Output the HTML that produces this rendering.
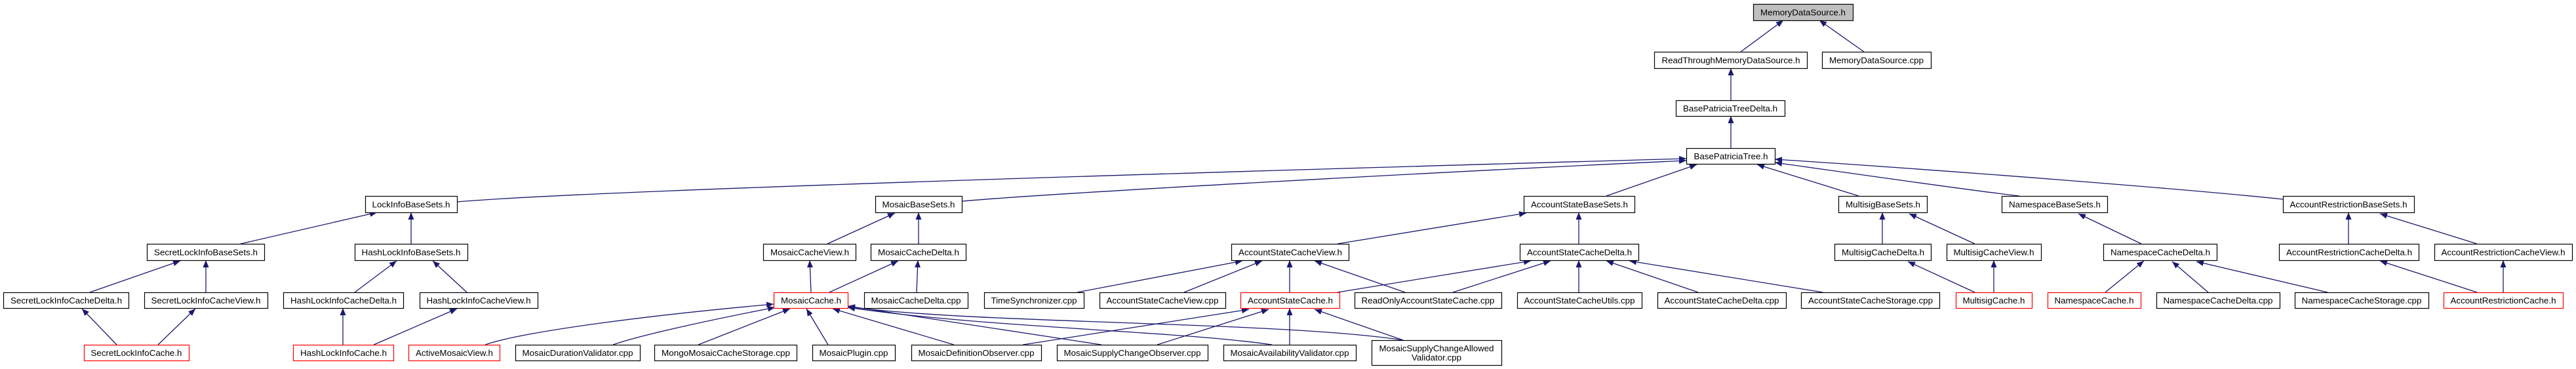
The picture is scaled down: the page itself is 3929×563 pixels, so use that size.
<!DOCTYPE html>
<html><head><meta charset="utf-8"><style>
html,body{margin:0;padding:0;background:#fff;}
svg{display:block;}
text{font-family:"Liberation Sans",Arial,sans-serif;font-size:13px;fill:#000;}
.b{fill:#fff;stroke:#000;stroke-width:1.2;}
.r{fill:#fff;stroke:#ff0000;stroke-width:1.2;}
.e{stroke:#191970;stroke-width:1.3;fill:none;marker-start:url(#a);}
</style></head><body>
<svg width="3929" height="563" viewBox="0 0 3929 563" xmlns="http://www.w3.org/2000/svg">
<defs><marker id="a" markerUnits="userSpaceOnUse" markerWidth="12" markerHeight="10" refX="11" refY="4.5" orient="auto-start-reverse"><path d="M0,0 L11,4.5 L0,9 z" fill="#191970"/></marker></defs>

<g>
<line class="e" x1="2720" y1="31" x2="2655" y2="79"/>
<line class="e" x1="2775" y1="31" x2="2843" y2="79"/>
<line class="e" x1="2640" y1="104" x2="2640" y2="153"/>
<line class="e" x1="2640" y1="177" x2="2640" y2="226"/>
<!-- BPT children -->
<path class="e" d="M2572,242 C2000,258 900,290 697,308"/>
<path class="e" d="M2572,245 C2200,262 1600,295 1467,307"/>
<line class="e" x1="2588" y1="251" x2="2450" y2="299"/>
<line class="e" x1="2680" y1="251" x2="2835" y2="299"/>
<path class="e" d="M2707,248 C2850,268 3000,290 3080,299"/>
<path class="e" d="M2707,243 C3000,262 3350,290 3482,304"/>
<!-- row4->5 -->
<line class="e" x1="575" y1="324" x2="367" y2="372"/>
<line class="e" x1="627" y1="324" x2="627" y2="372"/>
<line class="e" x1="1365" y1="325" x2="1262" y2="372"/>
<line class="e" x1="1401" y1="324" x2="1401" y2="372"/>
<line class="e" x1="2328" y1="325" x2="2040" y2="372"/>
<line class="e" x1="2408" y1="324" x2="2408" y2="372"/>
<line class="e" x1="2871" y1="324" x2="2871" y2="372"/>
<line class="e" x1="2912" y1="326" x2="3012" y2="372"/>
<line class="e" x1="3170" y1="326" x2="3266" y2="372"/>
<line class="e" x1="3582" y1="324" x2="3582" y2="372"/>
<line class="e" x1="3630" y1="326" x2="3778" y2="372"/>
<!-- row5->6 -->
<line class="e" x1="275" y1="398" x2="137" y2="446"/>
<line class="e" x1="314" y1="397" x2="314" y2="446"/>
<line class="e" x1="605" y1="398" x2="541" y2="446"/>
<line class="e" x1="660" y1="398" x2="712" y2="446"/>
<line class="e" x1="1235" y1="397" x2="1237" y2="446"/>
<line class="e" x1="1370" y1="398" x2="1265" y2="446"/>
<line class="e" x1="1400" y1="397" x2="1398" y2="446"/>
<line class="e" x1="1895" y1="398" x2="1643" y2="446"/>
<line class="e" x1="1925" y1="398" x2="1806" y2="446"/>
<line class="e" x1="1967" y1="397" x2="1967" y2="446"/>
<line class="e" x1="2005" y1="398" x2="2143" y2="446"/>
<line class="e" x1="2335" y1="398" x2="2040" y2="446"/>
<line class="e" x1="2365" y1="398" x2="2216" y2="446"/>
<line class="e" x1="2408" y1="397" x2="2408" y2="446"/>
<line class="e" x1="2450" y1="398" x2="2590" y2="446"/>
<line class="e" x1="2485" y1="398" x2="2780" y2="446"/>
<line class="e" x1="2910" y1="399" x2="3012" y2="446"/>
<line class="e" x1="3041" y1="397" x2="3041" y2="446"/>
<line class="e" x1="3270" y1="398" x2="3211" y2="446"/>
<line class="e" x1="3313" y1="399" x2="3368" y2="446"/>
<line class="e" x1="3350" y1="399" x2="3550" y2="446"/>
<line class="e" x1="3630" y1="398" x2="3778" y2="446"/>
<line class="e" x1="3818" y1="397" x2="3818" y2="446"/>
<!-- row6->7 -->
<line class="e" x1="125" y1="471" x2="178" y2="526"/>
<line class="e" x1="298" y1="471" x2="241" y2="526"/>
<line class="e" x1="523" y1="470" x2="523" y2="526"/>
<line class="e" x1="697" y1="471" x2="570" y2="526"/>
<path class="e" d="M1180,464 C1000,480 800,505 740,526"/>
<path class="e" d="M1182,469 C1100,485 980,510 935,526"/>
<line class="e" x1="1205" y1="471" x2="1065" y2="526"/>
<line class="e" x1="1230" y1="471" x2="1263" y2="526"/>
<line class="e" x1="1270" y1="471" x2="1455" y2="526"/>
<line class="e" x1="1293" y1="467" x2="1680" y2="526"/>
<path class="e" d="M1293,469 C1500,500 1800,505 1940,526"/>
<path class="e" d="M1293,468 C1500,495 1950,490 2140,519"/>
<line class="e" x1="1905" y1="472" x2="1560" y2="526"/>
<line class="e" x1="1935" y1="472" x2="1765" y2="526"/>
<line class="e" x1="1967" y1="470" x2="1967" y2="526"/>
<line class="e" x1="2005" y1="472" x2="2140" y2="519"/>
</g>

<g>
<rect x="2674.5" y="6.5" width="152" height="25" fill="#bfbfbf" stroke="#000" stroke-width="1.2"/><text x="2750" y="23.5" text-anchor="middle" textLength="130" lengthAdjust="spacingAndGlyphs">MemoryDataSource.h</text>
<rect class="b" x="2523.5" y="79.5" width="233" height="25"/><text x="2640" y="96.5" text-anchor="middle" textLength="211" lengthAdjust="spacingAndGlyphs">ReadThroughMemoryDataSource.h</text>
<rect class="b" x="2779.5" y="79.5" width="166" height="25"/><text x="2862" y="96.5" text-anchor="middle" textLength="144" lengthAdjust="spacingAndGlyphs">MemoryDataSource.cpp</text>
<rect class="b" x="2556.5" y="153.5" width="166" height="24"/><text x="2639" y="170" text-anchor="middle" textLength="144" lengthAdjust="spacingAndGlyphs">BasePatriciaTreeDelta.h</text>
<rect class="b" x="2572.5" y="226.5" width="135" height="24"/><text x="2640" y="243" text-anchor="middle" textLength="113" lengthAdjust="spacingAndGlyphs">BasePatriciaTree.h</text>

<rect class="b" x="557.5" y="299.5" width="140" height="25"/><text x="627" y="316.5" text-anchor="middle" textLength="119" lengthAdjust="spacingAndGlyphs">LockInfoBaseSets.h</text>
<rect class="b" x="1335.5" y="299.5" width="132" height="25"/><text x="1401" y="316.5" text-anchor="middle" textLength="111" lengthAdjust="spacingAndGlyphs">MosaicBaseSets.h</text>
<rect class="b" x="2324.5" y="299.5" width="169" height="25"/><text x="2409" y="316.5" text-anchor="middle" textLength="148" lengthAdjust="spacingAndGlyphs">AccountStateBaseSets.h</text>
<rect class="b" x="2804.5" y="299.5" width="135" height="25"/><text x="2872" y="316.5" text-anchor="middle" textLength="114" lengthAdjust="spacingAndGlyphs">MultisigBaseSets.h</text>
<rect class="b" x="3053.5" y="299.5" width="161" height="25"/><text x="3134" y="316.5" text-anchor="middle" textLength="140" lengthAdjust="spacingAndGlyphs">NamespaceBaseSets.h</text>
<rect class="b" x="3482.5" y="299.5" width="200" height="25"/><text x="3582" y="316.5" text-anchor="middle" textLength="179" lengthAdjust="spacingAndGlyphs">AccountRestrictionBaseSets.h</text>

<rect class="b" x="224.5" y="372.5" width="179" height="25"/><text x="314" y="389.5" text-anchor="middle" textLength="158" lengthAdjust="spacingAndGlyphs">SecretLockInfoBaseSets.h</text>
<rect class="b" x="541.5" y="372.5" width="172" height="25"/><text x="627" y="389.5" text-anchor="middle" textLength="151" lengthAdjust="spacingAndGlyphs">HashLockInfoBaseSets.h</text>
<rect class="b" x="1164.5" y="372.5" width="141" height="25"/><text x="1235" y="389.5" text-anchor="middle" textLength="120" lengthAdjust="spacingAndGlyphs">MosaicCacheView.h</text>
<rect class="b" x="1328.5" y="372.5" width="145" height="25"/><text x="1401" y="389.5" text-anchor="middle" textLength="124" lengthAdjust="spacingAndGlyphs">MosaicCacheDelta.h</text>
<rect class="b" x="1878.5" y="372.5" width="179" height="25"/><text x="1968" y="389.5" text-anchor="middle" textLength="158" lengthAdjust="spacingAndGlyphs">AccountStateCacheView.h</text>
<rect class="b" x="2318.5" y="372.5" width="181" height="25"/><text x="2409" y="389.5" text-anchor="middle" textLength="160" lengthAdjust="spacingAndGlyphs">AccountStateCacheDelta.h</text>
<rect class="b" x="2798.5" y="372.5" width="147" height="25"/><text x="2872" y="389.5" text-anchor="middle" textLength="126" lengthAdjust="spacingAndGlyphs">MultisigCacheDelta.h</text>
<rect class="b" x="2969.5" y="372.5" width="144" height="25"/><text x="3041" y="389.5" text-anchor="middle" textLength="123" lengthAdjust="spacingAndGlyphs">MultisigCacheView.h</text>
<rect class="b" x="3208.5" y="372.5" width="173" height="25"/><text x="3295" y="389.5" text-anchor="middle" textLength="152" lengthAdjust="spacingAndGlyphs">NamespaceCacheDelta.h</text>
<rect class="b" x="3476.5" y="372.5" width="213" height="25"/><text x="3583" y="389.5" text-anchor="middle" textLength="192" lengthAdjust="spacingAndGlyphs">AccountRestrictionCacheDelta.h</text>
<rect class="b" x="3713.5" y="372.5" width="210" height="25"/><text x="3818" y="389.5" text-anchor="middle" textLength="189" lengthAdjust="spacingAndGlyphs">AccountRestrictionCacheView.h</text>

<rect class="b" x="5.5" y="446.5" width="191" height="24"/><text x="101" y="463" text-anchor="middle" textLength="170" lengthAdjust="spacingAndGlyphs">SecretLockInfoCacheDelta.h</text>
<rect class="b" x="220.5" y="446.5" width="188" height="24"/><text x="314" y="463" text-anchor="middle" textLength="167" lengthAdjust="spacingAndGlyphs">SecretLockInfoCacheView.h</text>
<rect class="b" x="432.5" y="446.5" width="183" height="24"/><text x="524" y="463" text-anchor="middle" textLength="162" lengthAdjust="spacingAndGlyphs">HashLockInfoCacheDelta.h</text>
<rect class="b" x="640.5" y="446.5" width="180" height="24"/><text x="730" y="463" text-anchor="middle" textLength="159" lengthAdjust="spacingAndGlyphs">HashLockInfoCacheView.h</text>
<rect class="r" x="1180.5" y="446.5" width="113" height="24"/><text x="1237" y="463" text-anchor="middle" textLength="92" lengthAdjust="spacingAndGlyphs">MosaicCache.h</text>
<rect class="b" x="1318.5" y="446.5" width="158" height="24"/><text x="1397" y="463" text-anchor="middle" textLength="137" lengthAdjust="spacingAndGlyphs">MosaicCacheDelta.cpp</text>
<rect class="b" x="1501.5" y="446.5" width="152" height="24"/><text x="1577" y="463" text-anchor="middle" textLength="131" lengthAdjust="spacingAndGlyphs">TimeSynchronizer.cpp</text>
<rect class="b" x="1677.5" y="446.5" width="192" height="24"/><text x="1773" y="463" text-anchor="middle" textLength="171" lengthAdjust="spacingAndGlyphs">AccountStateCacheView.cpp</text>
<rect class="r" x="1892.5" y="446.5" width="151" height="24"/><text x="1968" y="463" text-anchor="middle" textLength="130" lengthAdjust="spacingAndGlyphs">AccountStateCache.h</text>
<rect class="b" x="2066.5" y="446.5" width="224" height="24"/><text x="2178" y="463" text-anchor="middle" textLength="203" lengthAdjust="spacingAndGlyphs">ReadOnlyAccountStateCache.cpp</text>
<rect class="b" x="2314.5" y="446.5" width="190" height="24"/><text x="2409" y="463" text-anchor="middle" textLength="169" lengthAdjust="spacingAndGlyphs">AccountStateCacheUtils.cpp</text>
<rect class="b" x="2528.5" y="446.5" width="196" height="24"/><text x="2626" y="463" text-anchor="middle" textLength="175" lengthAdjust="spacingAndGlyphs">AccountStateCacheDelta.cpp</text>
<rect class="b" x="2747.5" y="446.5" width="211" height="24"/><text x="2853" y="463" text-anchor="middle" textLength="190" lengthAdjust="spacingAndGlyphs">AccountStateCacheStorage.cpp</text>
<rect class="r" x="2983.5" y="446.5" width="116" height="24"/><text x="3041" y="463" text-anchor="middle" textLength="95" lengthAdjust="spacingAndGlyphs">MultisigCache.h</text>
<rect class="r" x="3123.5" y="446.5" width="142" height="24"/><text x="3194" y="463" text-anchor="middle" textLength="121" lengthAdjust="spacingAndGlyphs">NamespaceCache.h</text>
<rect class="b" x="3289.5" y="446.5" width="188" height="24"/><text x="3383" y="463" text-anchor="middle" textLength="167" lengthAdjust="spacingAndGlyphs">NamespaceCacheDelta.cpp</text>
<rect class="b" x="3500.5" y="446.5" width="204" height="24"/><text x="3602" y="463" text-anchor="middle" textLength="183" lengthAdjust="spacingAndGlyphs">NamespaceCacheStorage.cpp</text>
<rect class="r" x="3727.5" y="446.5" width="182" height="24"/><text x="3818" y="463" text-anchor="middle" textLength="161" lengthAdjust="spacingAndGlyphs">AccountRestrictionCache.h</text>

<rect class="r" x="128.5" y="526.5" width="160" height="24"/><text x="208" y="543" text-anchor="middle" textLength="139" lengthAdjust="spacingAndGlyphs">SecretLockInfoCache.h</text>
<rect class="r" x="447.5" y="526.5" width="153" height="24"/><text x="524" y="543" text-anchor="middle" textLength="132" lengthAdjust="spacingAndGlyphs">HashLockInfoCache.h</text>
<rect class="r" x="623.5" y="526.5" width="139" height="24"/><text x="693" y="543" text-anchor="middle" textLength="118" lengthAdjust="spacingAndGlyphs">ActiveMosaicView.h</text>
<rect class="b" x="786.5" y="526.5" width="190" height="24"/><text x="881" y="543" text-anchor="middle" textLength="169" lengthAdjust="spacingAndGlyphs">MosaicDurationValidator.cpp</text>
<rect class="b" x="998.5" y="526.5" width="217" height="24"/><text x="1107" y="543" text-anchor="middle" textLength="196" lengthAdjust="spacingAndGlyphs">MongoMosaicCacheStorage.cpp</text>
<rect class="b" x="1239.5" y="526.5" width="126" height="24"/><text x="1302" y="543" text-anchor="middle" textLength="105" lengthAdjust="spacingAndGlyphs">MosaicPlugin.cpp</text>
<rect class="b" x="1390.5" y="526.5" width="198" height="24"/><text x="1489" y="543" text-anchor="middle" textLength="177" lengthAdjust="spacingAndGlyphs">MosaicDefinitionObserver.cpp</text>
<rect class="b" x="1612.5" y="526.5" width="230" height="24"/><text x="1727" y="543" text-anchor="middle" textLength="209" lengthAdjust="spacingAndGlyphs">MosaicSupplyChangeObserver.cpp</text>
<rect class="b" x="1866.5" y="526.5" width="202" height="24"/><text x="1967" y="543" text-anchor="middle" textLength="181" lengthAdjust="spacingAndGlyphs">MosaicAvailabilityValidator.cpp</text>
<rect class="b" x="2092.5" y="519.5" width="198" height="38"/><text x="2191" y="536" text-anchor="middle" textLength="175" lengthAdjust="spacingAndGlyphs">MosaicSupplyChangeAllowed</text><text x="2191" y="550" text-anchor="middle" textLength="76" lengthAdjust="spacingAndGlyphs">Validator.cpp</text>
</g>
</svg>
</body></html>
